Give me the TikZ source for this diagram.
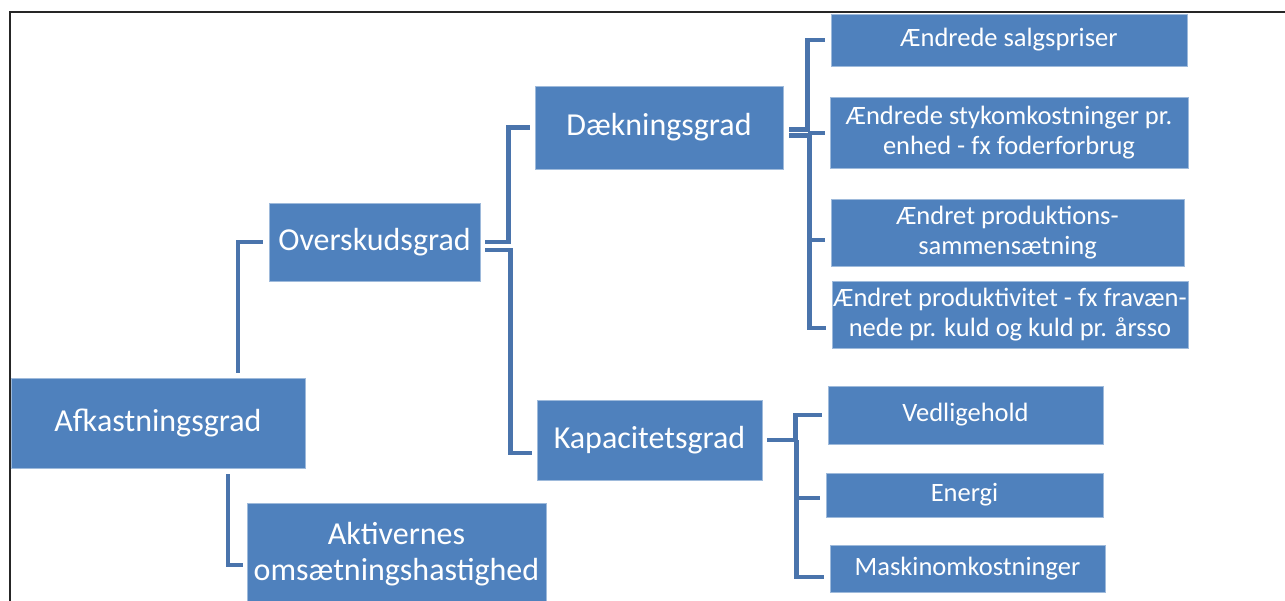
\documentclass[tikz,border=0pt]{standalone}
\usepackage{fontspec}
\setmainfont{Carlito}
\usetikzlibrary{calc}
\definecolor{boxblue}{HTML}{4F81BD}
\definecolor{connblue}{HTML}{4A74AC}
\begin{document}
\begin{tikzpicture}[x=1pt,y=-1pt,
  basebox/.style={draw=boxblue!55!white, line width=0.8pt, fill=boxblue, text=white, inner sep=0pt, align=center},
  bigbox/.style={basebox, font=\fontsize{32}{36}\selectfont},
  smallbox/.style={basebox, font=\fontsize{26.5}{29.5}\selectfont},
  conn/.style={draw=connblue, line width=4.5pt}]
\useasboundingbox (0,0) rectangle (1285,601);
\clip (0,0) rectangle (1285,601);
% frame
\draw[line width=2pt, black!85] (9.5,602) -- (9.5,12) -- (1286,12);
% level boxes
\node[bigbox, minimum width=294pt, minimum height=90pt] (afk) at (158,423) {Afkastningsgrad};
\node[bigbox, minimum width=299pt, minimum height=103pt] (akt) at (396.5,554.5) {Aktivernes\\omsætningshastighed};
\node[bigbox, minimum width=211pt, minimum height=78pt] (ovs) at (374.5,242) {Overskudsgrad};
\node[bigbox, minimum width=248pt, minimum height=83pt] (daek) at (659,127.5) {Dækningsgrad};
\node[bigbox, minimum width=225pt, minimum height=80pt] (kap) at (649.5,440) {Kapacitetsgrad};
% right boxes
\node[smallbox, minimum width=356pt, minimum height=52pt] (s1) at (1009,40) {Ændrede salgspriser};
\node[smallbox, minimum width=358pt, minimum height=71pt] (s2) at (1009,132.5) {Ændrede stykomkostninger pr.\\enhed - fx foderforbrug};
\node[smallbox, minimum width=353pt, minimum height=67pt] (s3) at (1007.5,232.5) {Ændret produktions-\\sammensætning};
\node[smallbox, minimum width=356pt, minimum height=67pt] (s4) at (1010,314.5) {Ændret produktivitet - fx fravæn-\\nede pr. kuld og kuld pr. årsso};
\node[smallbox, minimum width=275pt, minimum height=58pt] (k1) at (965.5,415) {Vedligehold};
\node[smallbox, minimum width=277pt, minimum height=44pt] (k2) at (964.5,495) {Energi};
\node[smallbox, minimum width=275pt, minimum height=47pt] (k3) at (967.5,568.5) {Maskinomkostninger};
% connectors: Afkastningsgrad
\draw[conn] ($(afk.north)+(80,-5)$) |- ($(ovs.west)+(-6,0)$);
\draw[conn] ($(afk.south)+(70,6)$) |- ($(akt.west)+(-4,10.5)$);
% Overskudsgrad
\draw[conn] ($(ovs.east)+(5,0)$) -| ($(daek.west)+(-26,0)$) -- ($(daek.west)+(-5,0)$);
\draw[conn] ($(ovs.east)+(5,8)$) -| ($(kap.west)+(-26,13)$) -- ($(kap.west)+(-5,13)$);
% Daekningsgrad
\draw[conn] ($(daek.east)+(6,2)$) -| ($(s1.west)+(-23,0)$) -- ($(s1.west)+(-6,0)$);
\draw[conn] ($(s2.west)+(-22,0.5)$) -- ($(s2.west)+(-5,0.5)$);
\draw[conn] ($(daek.east)+(6,8)$) -| ($(s4.west)+(-22,13.5)$) -- ($(s4.west)+(-6,13.5)$);
\draw[conn] ($(s3.west)+(-21,7.5)$) -- ($(s3.west)+(-6,7.5)$);
% Kapacitetsgrad
\draw[conn] ($(kap.east)+(5,0)$) -| ($(k1.west)+(-32,0)$) -- ($(k1.west)+(-6,0)$);
\draw[conn] ($(kap.east)+(34,0)$) |- ($(k3.west)+(-6,8.5)$);
\draw[conn] ($(k2.west)+(-30,3)$) -- ($(k2.west)+(-6,3)$);
\end{tikzpicture}
\end{document}
